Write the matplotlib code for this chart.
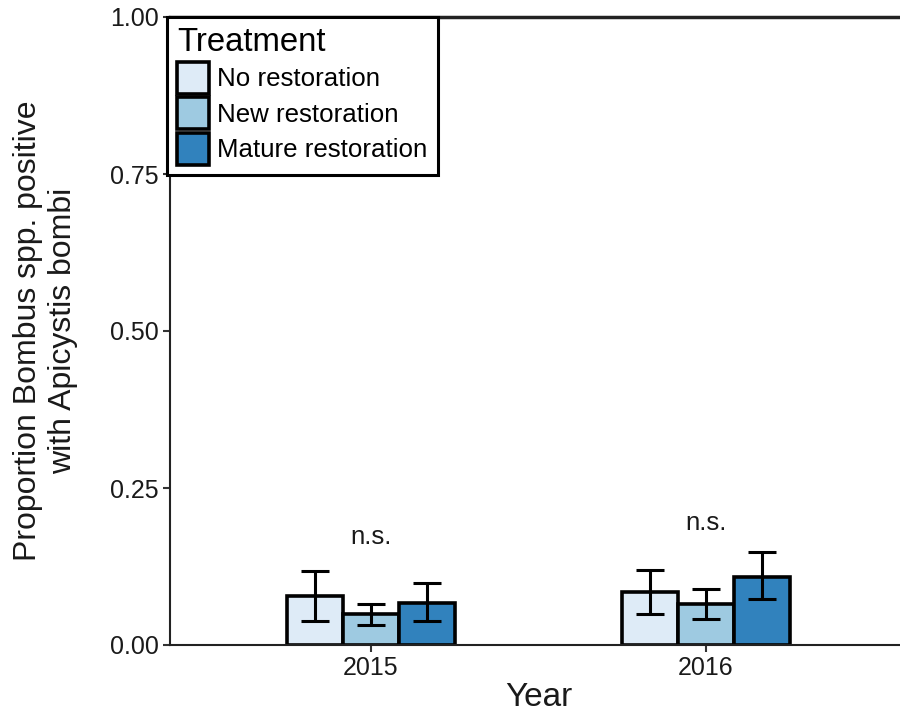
import matplotlib
matplotlib.use("Agg")
import matplotlib.pyplot as plt
import numpy as np

plt.rcParams['font.family'] = ['Liberation Sans', 'DejaVu Sans']

years = ["2015", "2016"]
treatments = ["No restoration", "New restoration", "Mature restoration"]
colors = ["#deebf7", "#9ecae1", "#3182bd"]

# proportion positive, per treatment, per year
means = {
    "No restoration":     [0.078, 0.084],
    "New restoration":    [0.049, 0.065],
    "Mature restoration": [0.067, 0.109],
}
err_low = {
    "No restoration":     [0.038, 0.049],
    "New restoration":    [0.032, 0.041],
    "Mature restoration": [0.038, 0.073],
}
err_high = {
    "No restoration":     [0.118, 0.119],
    "New restoration":    [0.065, 0.089],
    "Mature restoration": [0.098, 0.148],
}
sig_labels = ["n.s.", "n.s."]
sig_y = [0.172, 0.194]

fig = plt.figure(figsize=(9, 7.15), dpi=100)
ax = fig.add_axes([170 / 900, 1 - 645 / 715, (907 - 170) / 900, (645 - 17) / 715])

x = np.arange(len(years))
width = 1 / 6
offsets = [-width, 0, width]

for t, c, off in zip(treatments, colors, offsets):
    m = np.array(means[t])
    lo = m - np.array(err_low[t])
    hi = np.array(err_high[t]) - m
    ax.bar(x + off, m, width=width, color=c, edgecolor="black", linewidth=2.6,
           label=t, zorder=2)
    ax.errorbar(x + off, m, yerr=[lo, hi], fmt="none", ecolor="black",
                elinewidth=2.2, capsize=10, capthick=2.2, zorder=3)

for xi, lab, yv in zip(x, sig_labels, sig_y):
    ax.text(xi, yv, lab, ha="center", va="center", fontsize=18.5, color="#1a1a1a")

ax.set_xlim(-0.6, 1.6)
ax.set_ylim(0, 1)
ax.set_xticks(x)
ax.set_xticklabels(years)
ax.set_yticks([0, 0.25, 0.5, 0.75, 1.0])
ax.set_yticklabels(["0.00", "0.25", "0.50", "0.75", "1.00"])
ax.tick_params(axis="both", labelsize=18, length=5, width=1.5, colors="#333333",
               labelcolor="#1a1a1a", pad=3)

for s in ["left", "bottom"]:
    ax.spines[s].set_linewidth(1.5)
    ax.spines[s].set_color("#222222")
ax.spines["top"].set_linewidth(2.5)
ax.spines["top"].set_color("#222222")
ax.spines["right"].set_visible(False)

ax.set_xlabel("Year", fontsize=24, color="#1a1a1a", labelpad=1)
ax.set_ylabel("Proportion Bombus spp. positive\nwith Apicystis bombi", fontsize=23,
              color="#1a1a1a", labelpad=23, linespacing=1.22)

leg = ax.legend(title="Treatment", loc="upper left",
                bbox_to_anchor=(167 / 900, 1 - 17 / 715), bbox_transform=fig.transFigure,
                fontsize=18.6, title_fontsize=23.7, frameon=True, fancybox=False,
                handlelength=1.24, handleheight=1.52, handletextpad=0.3,
                labelspacing=0.14, borderpad=0.4, borderaxespad=0)
leg._legend_box.align = "left"
frame = leg.get_frame()
frame.set_edgecolor("black")
frame.set_linewidth(2.2)
frame.set_alpha(1)
leg.set_zorder(5)

fig.savefig("out.png", dpi=100)
